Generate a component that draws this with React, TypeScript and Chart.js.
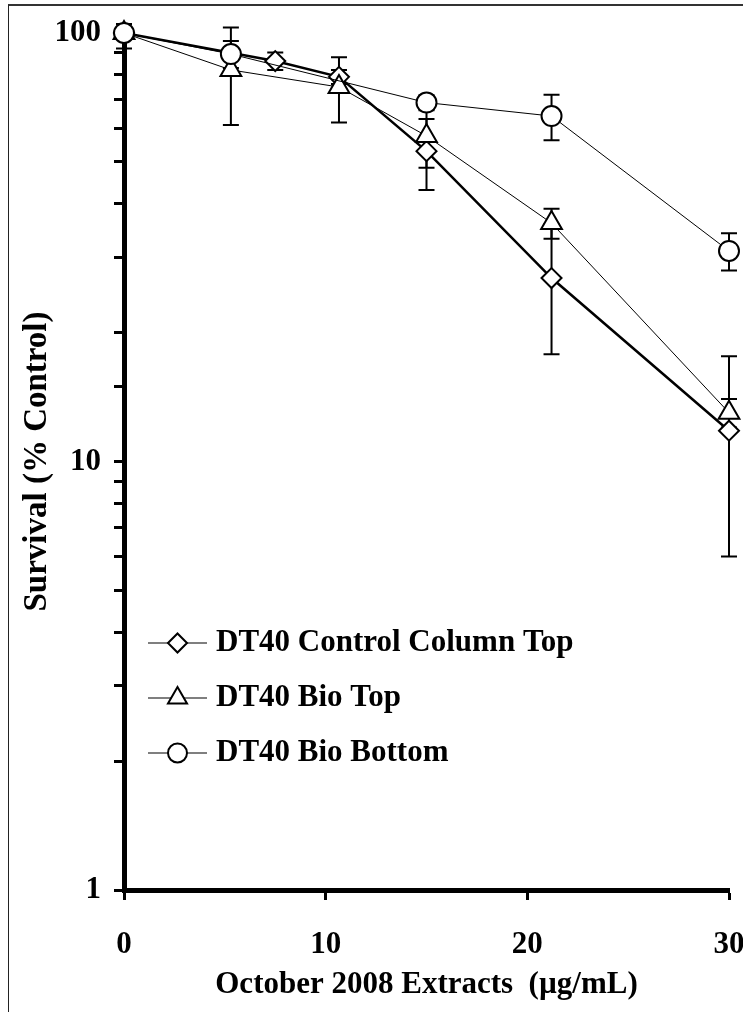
import React, { useEffect, useRef } from 'react';
import { Chart, registerables } from 'chart.js';

Chart.register(...registerables);

// ---- Data ----
const seriesLabels = ['DT40 Control Column Top', 'DT40 Bio Top', 'DT40 Bio Bottom'];

const controlX = [0, 7.5, 10.66, 15, 21.2, 30];
const controlY = [100, 86, 79, 53, 26.8, 11.8];
const controlErrUp = [0, 4, 3, 10, 9, 5.8];
const controlErrDown = [0, 4, 3, 10, 9, 5.8];

const bioTopX = [0, 5.3, 10.66, 15, 21.2, 30];
const bioTopY = [100, 82, 74.8, 57.5, 36, 13];
const bioTopErrUp = [0, 21, 13, 9, 2.9, 1];
const bioTopErrDown = [0, 21, 13, 9, 2.9, 1];

const bioBottomX = [0, 5.3, 15, 21.2, 30];
const bioBottomY = [100, 89.3, 68.8, 64, 31];
const bioBottomErrUp = [5, 6.5, 2.8, 7.8, 3.1];
const bioBottomErrDown = [8, 6.5, 2.8, 7.8, 3.1];

const xTickValues = [0, 10, 20, 30];
const yLabelValues = [1, 10, 100];

const xTitle = 'October 2008 Extracts  (\u00B5g/mL)';
const yTitle = 'Survival (% Control)';

export default function App() {
  const ref = useRef<HTMLCanvasElement>(null);

  useEffect(() => {
    const canvas = ref.current;
    if (!canvas) return;
    const FONT = '"Liberation Serif", "Times New Roman", serif';

    const series = [
      { label: seriesLabels[0], xs: controlX, ys: controlY, up: controlErrUp, down: controlErrDown, style: 'rectRot', radius: 10, lw: 2.5 },
      { label: seriesLabels[1], xs: bioTopX, ys: bioTopY, up: bioTopErrUp, down: bioTopErrDown, style: 'triangle', radius: 12, lw: 1 },
      { label: seriesLabels[2], xs: bioBottomX, ys: bioBottomY, up: bioBottomErrUp, down: bioBottomErrDown, style: 'circle', radius: 10, lw: 1 },
    ];

    const drawMarker = (ctx: CanvasRenderingContext2D, style: string, x: number, y: number, r: number) => {
      ctx.beginPath();
      if (style === 'circle') {
        ctx.arc(x, y, r, 0, Math.PI * 2);
      } else if (style === 'rectRot') {
        ctx.moveTo(x - r, y);
        ctx.lineTo(x, y - r);
        ctx.lineTo(x + r, y);
        ctx.lineTo(x, y + r);
        ctx.closePath();
      } else {
        const s = Math.sin(Math.PI * 2 / 3) * r;
        ctx.moveTo(x, y - r);
        ctx.lineTo(x + s, y + r * 0.5);
        ctx.lineTo(x - s, y + r * 0.5);
        ctx.closePath();
      }
      ctx.fillStyle = '#fff';
      ctx.fill();
      ctx.strokeStyle = '#000';
      ctx.lineWidth = 2;
      ctx.stroke();
    };

    const errorBars = {
      id: 'errorBars',
      beforeDatasetsDraw(chart: any) {
        const ctx: CanvasRenderingContext2D = chart.ctx;
        const xs = chart.scales.x;
        const ys = chart.scales.y;
        ctx.save();
        ctx.strokeStyle = '#000';
        ctx.lineWidth = 2;
        const cap = 8;
        series.forEach((s) => {
          s.xs.forEach((xv, j) => {
            const px = xs.getPixelForValue(xv);
            const yv = s.ys[j];
            const up = s.up[j];
            const dn = s.down[j];
            const pTop = ys.getPixelForValue(yv + up);
            const pBot = ys.getPixelForValue(Math.max(yv - dn, 0.0001));
            ctx.beginPath();
            ctx.moveTo(px, pTop);
            ctx.lineTo(px, pBot);
            if (up > 0) {
              ctx.moveTo(px - cap, pTop);
              ctx.lineTo(px + cap, pTop);
            }
            if (dn > 0) {
              ctx.moveTo(px - cap, pBot);
              ctx.lineTo(px + cap, pBot);
            }
            ctx.stroke();
          });
        });
        ctx.restore();
      },
    };

    const customLegend = {
      id: 'customLegend',
      afterDraw(chart: any) {
        const ctx: CanvasRenderingContext2D = chart.ctx;
        const rows = [643, 698, 753];
        ctx.save();
        series.forEach((s, i) => {
          const y = rows[i];
          ctx.strokeStyle = '#000';
          ctx.lineWidth = 1.2;
          ctx.beginPath();
          ctx.moveTo(148, y);
          ctx.lineTo(207, y);
          ctx.stroke();
          drawMarker(ctx, s.style, 177.5, y, s.style === 'triangle' ? 11 : 9.5);
          ctx.fillStyle = '#000';
          ctx.font = `bold 31px ${FONT}`;
          ctx.textAlign = 'left';
          ctx.textBaseline = 'middle';
          ctx.fillText(s.label, 216, y);
        });
        ctx.restore();
      },
    };

    const tickFont = { family: FONT, size: 31, weight: 'bold' as const };

    const chart = new Chart(canvas, {
      type: 'line',
      data: {
        datasets: series.map((s, i) => ({
          label: s.label,
          data: s.xs.map((x, j) => ({ x, y: s.ys[j] })),
          borderColor: '#000',
          borderWidth: s.lw,
          backgroundColor: '#fff',
          pointStyle: s.style as any,
          pointRadius: s.radius,
          pointHoverRadius: s.radius,
          pointBorderWidth: 2,
          pointBackgroundColor: '#fff',
          pointBorderColor: '#000',
          tension: 0,
          fill: false,
          clip: false as any,
          order: 2 - i,
        })),
      },
      options: {
        responsive: false,
        maintainAspectRatio: false,
        devicePixelRatio: 1,
        animation: false,
        events: [],
        layout: { padding: { top: 33, right: 11, left: 0, bottom: 0 } },
        plugins: {
          legend: { display: false },
          tooltip: { enabled: false },
          title: { display: false },
        },
        scales: {
          x: {
            type: 'linear',
            position: 'bottom',
            min: 0,
            max: 30,
            ticks: {
              stepSize: 10,
              color: '#000',
              font: tickFont,
              padding: 26,
              maxRotation: 0,
              autoSkip: false,
              callback: (v: any) => (xTickValues.includes(Number(v)) ? String(v) : ''),
            },
            grid: { drawOnChartArea: false, drawTicks: true, tickLength: 10, tickWidth: 3, tickColor: '#000' },
            border: { display: true, color: '#000', width: 5 },
            title: {
              display: true,
              text: xTitle,
              color: '#000',
              font: { family: FONT, size: 31, weight: 'bold' },
              padding: { top: 0, bottom: 8 },
            },
            afterFit: (s: any) => {
              s.height = 122;
              s.paddingLeft = 0;
              s.paddingRight = 0;
            },
          },
          y: {
            type: 'logarithmic',
            position: 'left',
            min: 1,
            max: 100,
            ticks: {
              color: '#000',
              font: tickFont,
              padding: 13,
              autoSkip: false,
              callback: (v: any) => {
                const n = Number(v);
                return yLabelValues.some((t) => Math.abs(t - n) < 1e-9) ? String(n) : '';
              },
            },
            grid: { drawOnChartArea: false, drawTicks: true, tickLength: 10, tickWidth: 3, tickColor: '#000' },
            border: { display: true, color: '#000', width: 5 },
            title: {
              display: true,
              text: yTitle,
              color: '#000',
              font: { family: FONT, size: 33, weight: 'bold' },
              padding: { top: 18, bottom: 0 },
            },
            afterFit: (s: any) => {
              s.width = 124;
            },
          },
        },
      },
      plugins: [errorBars, customLegend],
    } as any);

    return () => chart.destroy();
  }, []);

  return (
    <>
      <canvas
        ref={ref}
        width={743}
        height={1012}
        style={{ position: 'fixed', left: 0, top: 0, width: '743px', height: '1012px' }}
      />
      <div
        style={{
          position: 'fixed',
          left: 8,
          top: 4,
          width: 800,
          height: 1100,
          borderLeft: '1px solid #222',
          borderTop: '2px solid #333',
          pointerEvents: 'none',
        }}
      />
    </>
  );
}
